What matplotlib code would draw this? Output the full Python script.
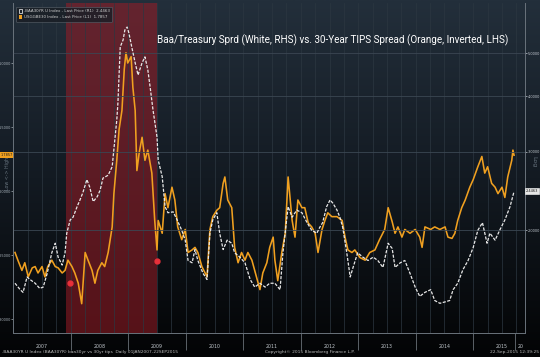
import numpy as np
import matplotlib.pyplot as plt
from matplotlib.patches import Patch
from matplotlib.colors import LinearSegmentedColormap
from matplotlib.ticker import NullLocator
from matplotlib.transforms import blended_transform_factory

# Baa/Treasury spread (white, right axis, log)
white_dates = [
    2007.03, 2007.12, 2007.17, 2007.24, 2007.29, 2007.38, 2007.46, 2007.52, 2007.59, 2007.64,
    2007.67, 2007.73, 2007.78, 2007.85, 2007.90, 2007.93, 2007.99, 2008.04, 2008.11, 2008.16,
    2008.21, 2008.28, 2008.33, 2008.39, 2008.46, 2008.51, 2008.56, 2008.65, 2008.72, 2008.77,
    2008.80, 2008.82, 2008.86, 2008.91, 2008.94, 2008.98, 2009.01, 2009.06, 2009.12, 2009.17,
    2009.24, 2009.29, 2009.34, 2009.38, 2009.43, 2009.50, 2009.52, 2009.59, 2009.64, 2009.69,
    2009.78, 2009.85, 2009.93, 2009.99, 2010.04, 2010.11, 2010.16, 2010.21, 2010.30, 2010.37,
    2010.42, 2010.47, 2010.54, 2010.59, 2010.65, 2010.72, 2010.80, 2010.85, 2010.94, 2011.03,
    2011.12, 2011.20, 2011.29, 2011.38, 2011.46, 2011.55, 2011.64, 2011.69, 2011.78, 2011.85,
    2011.93, 2012.02, 2012.11, 2012.19, 2012.28, 2012.33, 2012.38, 2012.45, 2012.51, 2012.56,
    2012.63, 2012.68, 2012.73, 2012.80, 2012.86, 2012.91, 2012.99, 2013.08, 2013.17, 2013.26,
    2013.34, 2013.43, 2013.52, 2013.59, 2013.64, 2013.73, 2013.81, 2013.90, 2013.99, 2014.07,
    2014.16, 2014.26, 2014.33, 2014.42, 2014.51, 2014.59, 2014.65, 2014.73, 2014.82, 2014.91,
    2015.00, 2015.08, 2015.16, 2015.24, 2015.29, 2015.38, 2015.46, 2015.55, 2015.64, 2015.71,
]
white_values = [
    1.52, 1.47, 1.45, 1.57, 1.55, 1.52, 1.48, 1.49, 1.60, 1.71,
    1.78, 1.87, 1.74, 1.67, 1.78, 1.97, 2.11, 2.14, 2.26, 2.34,
    2.43, 2.60, 2.50, 2.32, 2.38, 2.46, 2.62, 2.66, 2.78, 3.24,
    3.54, 3.87, 5.17, 5.36, 5.64, 5.73, 5.56, 5.17, 4.76, 4.47,
    4.76, 4.91, 4.59, 4.20, 3.73, 3.24, 2.88, 2.64, 2.26, 2.19,
    2.20, 2.11, 2.00, 1.90, 1.71, 1.69, 1.81, 1.71, 1.60, 1.55,
    1.97, 2.11, 2.19, 1.97, 1.81, 1.90, 1.87, 1.78, 1.74, 1.69,
    1.55, 1.49, 1.52, 1.49, 1.52, 1.52, 1.47, 1.78, 2.26, 2.14,
    2.22, 2.19, 2.08, 2.00, 1.97, 2.03, 2.08, 2.26, 2.34, 2.30,
    2.22, 2.14, 2.03, 1.78, 1.57, 1.65, 1.78, 1.74, 1.71, 1.74,
    1.71, 1.65, 1.87, 1.82, 1.65, 1.69, 1.71, 1.60, 1.49, 1.42,
    1.45, 1.47, 1.39, 1.37, 1.38, 1.39, 1.47, 1.52, 1.63, 1.71,
    1.83, 2.00, 2.08, 1.87, 1.97, 1.90, 2.00, 2.11, 2.26, 2.4463,
]

# 30-year TIPS spread (orange, left axis, inverted)
orange_dates = [
    2007.03, 2007.08, 2007.15, 2007.20, 2007.26, 2007.33, 2007.38, 2007.43, 2007.50, 2007.55,
    2007.60, 2007.67, 2007.73, 2007.78, 2007.85, 2007.90, 2007.95, 2008.02, 2008.07, 2008.13,
    2008.19, 2008.25, 2008.30, 2008.37, 2008.42, 2008.47, 2008.54, 2008.59, 2008.65, 2008.72,
    2008.75, 2008.80, 2008.84, 2008.89, 2008.93, 2008.96, 2008.99, 2009.05, 2009.08, 2009.12,
    2009.15, 2009.19, 2009.24, 2009.29, 2009.34, 2009.41, 2009.46, 2009.50, 2009.52, 2009.59,
    2009.64, 2009.69, 2009.76, 2009.81, 2009.86, 2009.93, 2009.99, 2010.04, 2010.11, 2010.16,
    2010.21, 2010.28, 2010.37, 2010.42, 2010.47, 2010.54, 2010.59, 2010.65, 2010.68, 2010.73,
    2010.80, 2010.85, 2010.91, 2010.97, 2011.03, 2011.08, 2011.15, 2011.23, 2011.29, 2011.34,
    2011.41, 2011.46, 2011.52, 2011.55, 2011.60, 2011.67, 2011.73, 2011.78, 2011.85, 2011.90,
    2011.95, 2012.02, 2012.07, 2012.13, 2012.19, 2012.25, 2012.30, 2012.37, 2012.42, 2012.47,
    2012.54, 2012.63, 2012.72, 2012.77, 2012.82, 2012.89, 2012.94, 2013.03, 2013.12, 2013.20,
    2013.29, 2013.37, 2013.46, 2013.52, 2013.59, 2013.64, 2013.69, 2013.76, 2013.81, 2013.90,
    2013.99, 2014.07, 2014.11, 2014.16, 2014.26, 2014.33, 2014.42, 2014.51, 2014.56, 2014.63,
    2014.68, 2014.73, 2014.80, 2014.86, 2014.94, 2015.00, 2015.08, 2015.15, 2015.20, 2015.25,
    2015.32, 2015.38, 2015.43, 2015.50, 2015.55, 2015.60, 2015.67, 2015.69, 2015.71,
]
orange_values = [
    2.48, 2.54, 2.62, 2.56, 2.67, 2.60, 2.59, 2.64, 2.59, 2.67,
    2.59, 2.54, 2.59, 2.60, 2.64, 2.62, 2.54, 2.59, 2.64, 2.72,
    2.88, 2.48, 2.54, 2.62, 2.72, 2.62, 2.56, 2.59, 2.48, 2.28,
    2.02, 1.76, 1.52, 1.37, 1.05, 0.92, 1.00, 0.95, 1.19, 1.37,
    1.84, 1.70, 1.58, 1.76, 1.68, 1.86, 2.23, 2.46, 2.23, 2.33,
    2.02, 2.13, 1.97, 2.07, 2.28, 2.38, 2.30, 2.48, 2.46, 2.44,
    2.48, 2.59, 2.67, 2.30, 2.20, 2.15, 2.13, 1.94, 1.89, 2.07,
    2.13, 2.44, 2.56, 2.48, 2.54, 2.48, 2.54, 2.67, 2.77, 2.64,
    2.56, 2.44, 2.36, 2.54, 2.70, 2.48, 2.33, 1.89, 2.23, 2.36,
    2.07, 2.13, 2.13, 2.25, 2.28, 2.33, 2.48, 2.30, 2.23, 2.17,
    2.20, 2.20, 2.23, 2.36, 2.46, 2.48, 2.46, 2.52, 2.54, 2.48,
    2.46, 2.38, 2.30, 2.13, 2.24, 2.33, 2.28, 2.36, 2.30, 2.33,
    2.30, 2.36, 2.44, 2.28, 2.30, 2.28, 2.30, 2.28, 2.36, 2.37,
    2.33, 2.23, 2.13, 2.07, 1.97, 1.91, 1.81, 1.73, 1.86, 1.81,
    1.94, 1.97, 2.02, 1.97, 2.05, 1.89, 1.76, 1.68, 1.72,
]

recession = (2007.917, 2009.5)
recession_marks_dates = [2007.99, 2009.50]
recession_marks_values = [2.72, 2.55]

years = [2007, 2008, 2009, 2010, 2011, 2012, 2013, 2014, 2015]
left_ticks = [1.0, 1.5, 2.0, 2.5, 3.0]
right_ticks = [2.0, 3.0, 4.0, 5.0]

title = "Baa/Treasury Sprd (White, RHS) vs. 30-Year TIPS Spread (Orange, Inverted, LHS)"
legend_labels = [".BAA30YR U Index - Last Price (R1)  2.4463",
                 "USGGBE30 Index - Last Price (L1)  1.7857"]

ORANGE = '#f0a020'
WHITE = '#e8e8e8'

fig = plt.figure(figsize=(5.4, 3.57), dpi=100)
fig.patch.set_facecolor('#000000')

# dark gradient background
bg = fig.add_axes([0, 0, 1, 1], zorder=-10)
grad = np.linspace(0, 1, 256).reshape(-1, 1)
cmap = LinearSegmentedColormap.from_list('bb', ['#232f3b', '#131a22', '#030405'])
bg.imshow(grad, aspect='auto', cmap=cmap, extent=[0, 1, 0, 1], origin='upper')
bg.axis('off')

ax = fig.add_axes([0.0246, 0.0672, 0.9476, 0.9244])
ax.set_facecolor('none')
ax2 = ax.twinx()
ax2.set_facecolor('none')

ax.set_xlim(2007.0, 2015.9)
ax.set_ylim(3.109, 0.531)
ax2.set_yscale('log')
ax2.set_ylim(1.1746, 6.49)

# grid
for q in np.arange(2007.25, 2015.9, 0.25):
    ax.axvline(q, color='#2c3741', lw=0.5, zorder=0.8)
for v in right_ticks:
    ax2.axhline(v, color='#3b4753', lw=0.6, zorder=0.8)

ax.axvspan(*recession, color='#9a1c26', alpha=0.55, lw=0, zorder=0.5)

ax2.plot(white_dates, white_values, color=WHITE, lw=0.9, dashes=(2.5, 1.2), zorder=3)
ax.plot(orange_dates, orange_values, color=ORANGE, lw=1.15, zorder=3)
ax.plot(recession_marks_dates, recession_marks_values, 'o', color='#e8303a', ms=3.5, zorder=4)

for a in (ax, ax2):
    for s in a.spines.values():
        s.set_color('#69727b')
        s.set_linewidth(0.6)
    a.spines['top'].set_visible(False)

ax.set_yticks(left_ticks)
ax.set_yticklabels([f"{v:.4f}" for v in left_ticks])
ax.tick_params(axis='y', labelsize=2.5, colors='#a9b2ba', length=1.2, width=0.5, pad=0.5)

ax2.yaxis.set_minor_locator(NullLocator())
ax2.set_yticks(right_ticks)
ax2.set_yticklabels([f"{v:.4f}" for v in right_ticks])
ax2.tick_params(axis='y', labelsize=2.5, colors='#c6cdd4', length=1.2, width=0.5, pad=0.5)

# year separators and labels
ax.set_xticks(years[1:] + [2015.72])
ax.set_xticklabels([])
ax.tick_params(axis='x', which='major', length=12, width=0.5, color='#7d868e', direction='out')
ax.set_xticks([y + 0.5 for y in years] + [2015.82], minor=True)
ax.set_xticklabels([str(y) for y in years] + ['20'], minor=True)
ax.tick_params(axis='x', which='minor', length=0, labelsize=3.4, colors='#c0c6cc', pad=8)

# last value tags
tr_l = blended_transform_factory(ax.transAxes, ax.transData)
ax.text(-0.001, orange_values[-1], "1.7857", transform=tr_l, ha='right', va='center',
        fontsize=2.5, color='#1a1a1a', zorder=6,
        bbox=dict(boxstyle='square,pad=0.3', fc=ORANGE, ec='none'))
tr_r = blended_transform_factory(ax2.transAxes, ax2.transData)
ax2.text(1.002, white_values[-1], "2.4463", transform=tr_r, ha='left', va='center',
         fontsize=2.5, color='#111111', zorder=6,
         bbox=dict(boxstyle='square,pad=0.3', fc='#e6e6e6', ec='#ffffff', lw=0.4))

handles = [Patch(facecolor='none', edgecolor='white', lw=0.5), Patch(facecolor=ORANGE)]
leg = ax2.legend(handles, legend_labels, loc='upper left', bbox_to_anchor=(0.002, 0.995),
                 fontsize=2.9, frameon=True, facecolor='#1a1f26', edgecolor='#59616a',
                 labelcolor='#d0d0d0', handlelength=0.7, handleheight=1.0,
                 borderpad=0.6, labelspacing=0.5, handletextpad=0.5)
leg.get_frame().set_linewidth(0.5)
leg.get_frame().set_alpha(0.85)
leg.set_zorder(10)

# title, fitted to the width it takes in the reference
ttl = fig.text(157 / 540, 1 - 40 / 357, title, fontsize=8, color='white', ha='left', va='center',
               family='Roboto')
fig.canvas.draw()
w = ttl.get_window_extent().width
ttl.set_fontsize(8 * 352 / w)

fig.text(7 / 540, 1 - 173 / 357, "Low <-> High", rotation=90, fontsize=3.4, color='#66727d',
         ha='center', va='center')
fig.text(534 / 540, 1 - 162 / 357, "Log", rotation=270, fontsize=4.5, color='#66727d',
         ha='center', va='center')

foot = dict(fontsize=3.2, color='#b8b8b8', va='center')
fig.text(0.004, 1 - 352 / 357, ".BAA30YR U Index (BAA30YR) baa30yr vs 30yr tips  Daily 01JAN2007-22SEP2015",
         ha='left', **foot)
fig.text(310 / 540, 1 - 352 / 357, "Copyright\u00a9 2015 Bloomberg Finance L.P.", ha='center', **foot)
fig.text(0.998, 1 - 352 / 357, "22-Sep-2015 12:39:25", ha='right', **foot)

fig.savefig('out.png', dpi=100, facecolor=fig.get_facecolor())
